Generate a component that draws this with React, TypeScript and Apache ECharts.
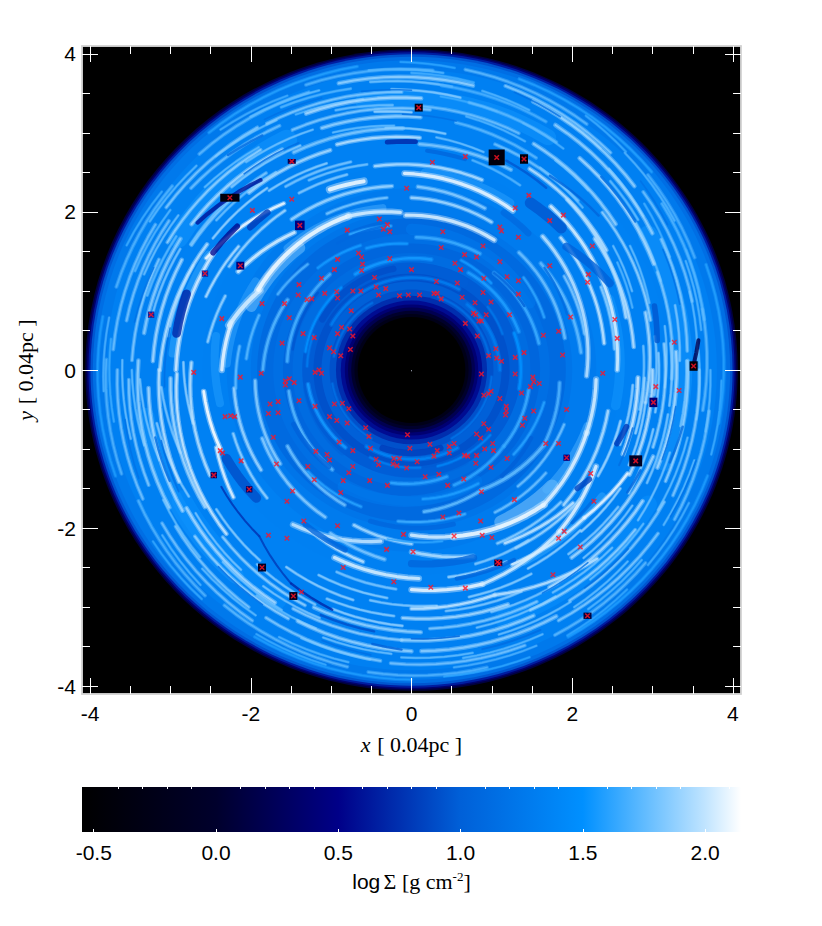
import React, { useEffect, useRef } from "react";
import * as echarts from "echarts";

const xTicks = [-4, -2, 0, 2, 4];
const yTicks = [-4, -2, 0, 2, 4];
const minorTicks = [-3.5, -3, -2.5, -1.5, -1, -0.5, 0.5, 1, 1.5, 2.5, 3, 3.5];
const barTicks = [-0.5, 0, 0.5, 1, 1.5, 2];
const barMinor = [-0.4, -0.3, -0.2, -0.1, 0.1, 0.2, 0.3, 0.4, 0.6, 0.7, 0.8, 0.9, 1.1, 1.2, 1.3, 1.4, 1.6, 1.7, 1.8, 1.9, 2.1];
const barRange = [-0.548, 2.147];
const palette: [number, number[]][] = [
  [-0.55, [0, 0, 0]], [0, [0, 0, 44]], [0.5, [0, 0, 136]], [1, [0, 96, 216]],
  [1.5, [0, 144, 255]], [1.75, [96, 187, 255]], [2, [192, 228, 255]], [2.15, [255, 255, 255]],
];

// radial profile: [outer radius, log sigma]
const rings = [
  [4.06, 0.1], [4.04, 0.35], [4.02, 0.65], [3.995, 0.95], [3.965, 1.15], [3.92, 1.26], [3.8, 1.33],
  [3.2, 1.34], [2.6, 1.33], [2.3, 1.28], [2.0, 1.22], [1.92, 1.1], [1.72, 1.16], [1.6, 1.06], [1.48, 1.12], [1.36, 0.98],
  [1.22, 0.92], [1.12, 1.0], [1.02, 0.92], [0.94, 0.74], [0.88, 0.56], [0.83, 0.38], [0.79, 0.2], [0.75, 0],
  [0.71, -0.25], [0.67, -0.55],
];

// [r start, r end, angle start, angle end, log sigma, thickness]
const broadBands = [
  [2.3, 2.24, 178, 150, 1.65, 0.1], [2.15, 2.08, 158, 132, 1.85, 0.14], [2.18, 2.08, 135, 100, 1.7, 0.1],
  [2.28, 2.22, -40, -60, 1.9, 0.16], [2.3, 2.26, -18, -42, 1.72, 0.1], [2.5, 2.44, 86, 60, 1.62, 0.12],
  [2.86, 2.8, -34, -60, 1.65, 0.1], [2.98, 2.92, 176, 150, 1.65, 0.1], [2.47, 2.42, 170, 190, 1.6, 0.1],
  [2.62, 2.58, 20, -10, 1.55, 0.12], [3.35, 3.3, 150, 118, 1.55, 0.25], [3.35, 3.3, -120, -150, 1.52, 0.25],
  [3.4, 3.35, 30, -20, 1.55, 0.25], [3.45, 3.4, 100, 60, 1.55, 0.2], [3.4, 3.35, 230, 190, 1.55, 0.2],
  [3.4, 3.35, -30, -70, 1.52, 0.22], [1.78, 1.7, 90, 30, 1.3, 0.14], [1.7, 1.62, 240, 300, 1.3, 0.14],
  [1.3, 1.28, 120, 60, 1.0, 0.14], [1.32, 1.3, 300, 250, 1.02, 0.12], [1.34, 1.32, 230, 190, 1.0, 0.1],
];

const outerFilaments = [
  [3.86, 3.8, 80, 55, 1.75, 0.022], [3.78, 3.7, 72, 48, 1.85, 0.022], [3.72, 3.62, 66, 40, 1.9, 0.026],
  [3.66, 3.6, 38, 14, 1.8, 0.022], [3.62, 3.56, 84, 62, 1.7, 0.022], [3.58, 3.46, 60, 30, 1.9, 0.026],
  [3.52, 3.44, 28, 4, 1.85, 0.022], [3.46, 3.4, 78, 58, 1.75, 0.022], [3.4, 3.3, 52, 24, 1.95, 0.026],
  [3.34, 3.28, 88, 66, 1.8, 0.022], [3.3, 3.24, 22, -2, 1.85, 0.022], [3.24, 3.14, 62, 36, 1.9, 0.026],
  [3.18, 3.1, 80, 60, 1.75, 0.022], [3.1, 3.04, 40, 12, 1.9, 0.022], [3.04, 2.98, 70, 46, 1.8, 0.022],
  [3.0, 2.94, 14, -8, 1.95, 0.026], [2.94, 2.86, 60, 32, 2.0, 0.026], [2.86, 2.82, 88, 64, 1.85, 0.026],
  [2.82, 2.78, 36, 6, 2.0, 0.026], [3.76, 3.7, 34, 10, 1.72, 0.022], [3.84, 3.8, 40, 22, 1.7, 0.022],
  [3.7, 3.66, 12, -8, 1.75, 0.022], [3.84, 3.8, 110, 86, 1.72, 0.022], [3.74, 3.68, 104, 78, 1.9, 0.026],
  [3.6, 3.52, 120, 92, 1.85, 0.022], [3.5, 3.44, 112, 88, 1.95, 0.026], [3.38, 3.3, 116, 86, 1.85, 0.022],
  [3.26, 3.2, 110, 88, 1.9, 0.026], [3.12, 3.06, 118, 92, 1.85, 0.026], [3.0, 2.94, 108, 88, 2.0, 0.026],
  [3.8, 3.74, 134, 110, 1.75, 0.022], [3.68, 3.62, 146, 122, 1.85, 0.022], [3.58, 3.5, 140, 118, 1.8, 0.022],
  [3.44, 3.36, 152, 124, 1.9, 0.022], [3.3, 3.22, 146, 120, 1.95, 0.026], [3.16, 3.08, 150, 126, 1.85, 0.022],
  [3.02, 2.96, 132, 110, 1.95, 0.026], [3.82, 3.78, 164, 142, 1.72, 0.022], [3.72, 3.68, 176, 150, 1.8, 0.022],
  [3.6, 3.56, 170, 148, 1.82, 0.022], [3.48, 3.44, 178, 156, 1.85, 0.022], [3.36, 3.32, 172, 150, 1.88, 0.026],
  [3.22, 3.18, 178, 154, 1.95, 0.026], [3.13, 3.0, 180, 148, 2.0, 0.026], [2.93, 2.87, 180, 149, 2.08, 0.03],
  [3.8, 3.84, 178, 200, 1.72, 0.022], [3.66, 3.72, 180, 206, 1.82, 0.022], [3.52, 3.58, 182, 204, 1.85, 0.022],
  [3.4, 3.48, 178, 210, 1.9, 0.026], [3.28, 3.36, 184, 212, 1.95, 0.026], [3.14, 3.22, 180, 206, 2.0, 0.026],
  [3.0, 3.1, 182, 214, 1.95, 0.026], [2.92, 3.1, 181, 222, 2.05, 0.026], [2.74, 2.84, 178, 208, 2.0, 0.026],
  [3.78, 3.84, 206, 228, 1.72, 0.022], [3.66, 3.74, 212, 238, 1.82, 0.022], [3.54, 3.62, 214, 236, 1.85, 0.022],
  [3.42, 3.5, 218, 244, 1.9, 0.022], [3.3, 3.4, 212, 240, 1.95, 0.026], [3.16, 3.26, 222, 246, 1.9, 0.022],
  [3.78, 3.84, 232, 258, 1.75, 0.022], [3.62, 3.7, 240, 264, 1.85, 0.022], [3.48, 3.56, 246, 270, 1.9, 0.026],
  [3.36, 3.42, 244, 268, 1.88, 0.022], [3.24, 3.32, 248, 272, 1.9, 0.026], [3.86, 3.88, 262, 284, 1.72, 0.022],
  [3.72, 3.76, 266, 292, 1.82, 0.022], [3.56, 3.6, 272, 300, 1.88, 0.026], [3.42, 3.46, 268, 296, 1.9, 0.026],
  [3.28, 3.32, 274, 298, 1.85, 0.022], [3.14, 3.2, 268, 292, 1.95, 0.026], [3.8, 3.8, -62, -40, 1.75, 0.022],
  [3.66, 3.7, -60, -34, 1.85, 0.022], [3.52, 3.56, -56, -28, 1.85, 0.022], [3.38, 3.44, -64, -36, 1.9, 0.022],
  [3.24, 3.32, -58, -30, 1.95, 0.026], [3.1, 3.2, -50, -20, 1.95, 0.026], [3.78, 3.74, -30, -8, 1.78, 0.022],
  [3.62, 3.58, -26, 0, 1.85, 0.022], [3.46, 3.44, -24, 2, 1.9, 0.022], [3.3, 3.3, -22, 4, 1.95, 0.026],
  [3.16, 3.16, -18, 6, 1.9, 0.022], [3.02, 3.0, -26, 0, 2.0, 0.026], [2.84, 2.82, -22, -2, 2.05, 0.03],
  [3.92, 3.9, 70, 40, 1.6, 0.02], [3.92, 3.9, 130, 100, 1.6, 0.02], [3.92, 3.9, 200, 170, 1.58, 0.02],
  [3.92, 3.9, 270, 240, 1.58, 0.02], [3.92, 3.9, -20, -60, 1.58, 0.02], [3.9, 3.88, 20, -10, 1.6, 0.02],
];

// finer streaks, first quadrant round to the fourth
const fineStreaks = [
  [3.9, 3.86, 92, 82, 1.62, 0.018], [3.83, 3.78, 98, 84, 1.72, 0.018], [3.76, 3.72, 90, 78, 1.68, 0.02], [3.7, 3.66, 60, 50, 1.78, 0.018],
  [3.68, 3.62, 98, 82, 1.8, 0.02], [3.64, 3.6, 76, 66, 1.72, 0.018], [3.54, 3.48, 46, 34, 1.76, 0.018], [3.56, 3.5, 94, 80, 1.85, 0.02],
  [3.48, 3.44, 84, 72, 1.66, 0.018], [3.42, 3.38, 66, 56, 1.7, 0.018], [3.36, 3.3, 34, 20, 1.74, 0.02], [3.3, 3.26, 98, 90, 1.9, 0.02],
  [3.28, 3.22, 78, 64, 1.72, 0.018], [3.2, 3.16, 56, 46, 1.68, 0.018], [3.14, 3.08, 30, 16, 1.76, 0.018], [3.08, 3.02, 96, 82, 1.86, 0.02],
  [3.02, 2.96, 58, 44, 1.74, 0.018], [2.96, 2.9, 84, 72, 1.78, 0.018], [2.9, 2.86, 28, 16, 1.72, 0.018], [2.76, 2.7, 74, 60, 1.72, 0.02],
  [3.88, 3.84, 56, 46, 1.66, 0.018], [3.82, 3.78, 46, 30, 1.72, 0.018], [3.74, 3.7, 24, 12, 1.64, 0.018], [3.68, 3.64, 22, 8, 1.72, 0.018],
  [3.6, 3.56, 16, 2, 1.74, 0.018], [3.58, 3.52, 36, 24, 1.68, 0.018], [3.44, 3.4, 44, 34, 1.76, 0.02], [3.38, 3.34, 14, 2, 1.82, 0.02],
  [3.2, 3.16, 10, -4, 1.78, 0.018], [3.06, 3.04, 8, -6, 1.82, 0.02], [2.96, 2.92, 32, 20, 1.78, 0.018], [2.9, 2.88, 6, -10, 1.8, 0.02],
  [3.86, 3.8, 128, 114, 1.68, 0.018], [3.78, 3.72, 122, 108, 1.76, 0.018], [3.7, 3.64, 116, 102, 1.72, 0.02], [3.64, 3.58, 132, 118, 1.76, 0.018],
  [3.54, 3.48, 114, 100, 1.72, 0.018], [3.46, 3.4, 138, 124, 1.76, 0.018], [3.42, 3.36, 106, 94, 1.78, 0.02], [3.34, 3.28, 128, 112, 1.8, 0.018],
  [3.22, 3.16, 134, 116, 1.85, 0.02], [3.16, 3.1, 108, 94, 1.76, 0.018], [3.08, 3.02, 142, 124, 1.78, 0.02], [2.98, 2.92, 146, 128, 1.9, 0.02],
  [2.88, 2.82, 128, 112, 1.86, 0.02], [2.8, 2.74, 124, 106, 1.82, 0.022], [2.72, 2.66, 118, 102, 1.8, 0.02], [2.64, 2.6, 122, 108, 1.84, 0.022],
  [3.88, 3.84, 156, 144, 1.66, 0.018], [3.76, 3.72, 150, 136, 1.74, 0.018], [3.66, 3.62, 160, 146, 1.72, 0.018], [3.54, 3.5, 160, 146, 1.78, 0.018],
  [3.42, 3.38, 164, 150, 1.74, 0.02], [3.3, 3.26, 168, 152, 1.82, 0.02], [3.18, 3.14, 150, 136, 1.76, 0.018], [3.06, 3.02, 172, 154, 1.84, 0.02],
  [3.84, 3.82, 184, 170, 1.7, 0.018], [3.76, 3.76, 190, 174, 1.66, 0.018], [3.6, 3.6, 194, 178, 1.78, 0.018], [3.46, 3.48, 196, 180, 1.76, 0.018],
  [3.34, 3.38, 200, 182, 1.8, 0.018], [3.2, 3.24, 210, 192, 1.84, 0.02], [3.06, 3.12, 200, 184, 1.82, 0.02], [2.8, 2.84, 194, 178, 1.88, 0.02],
  [3.88, 3.9, 214, 228, 1.64, 0.018], [3.74, 3.78, 214, 226, 1.72, 0.018], [3.62, 3.66, 224, 238, 1.76, 0.018], [3.5, 3.54, 208, 222, 1.76, 0.018],
  [3.38, 3.44, 226, 242, 1.78, 0.018], [3.24, 3.3, 214, 230, 1.82, 0.018], [3.12, 3.2, 232, 248, 1.84, 0.02], [3.0, 3.06, 216, 232, 1.86, 0.02],
  [3.86, 3.88, 240, 254, 1.66, 0.018], [3.76, 3.78, 244, 258, 1.72, 0.018], [3.66, 3.7, 248, 262, 1.74, 0.018], [3.56, 3.6, 252, 266, 1.78, 0.018],
  [3.44, 3.48, 236, 250, 1.76, 0.018], [3.3, 3.34, 236, 250, 1.82, 0.018], [3.18, 3.24, 252, 268, 1.88, 0.02], [3.08, 3.12, 250, 266, 1.86, 0.02],
  [2.94, 3.0, 238, 256, 1.88, 0.02], [2.84, 2.9, 246, 264, 1.86, 0.02], [2.72, 2.78, 250, 266, 1.82, 0.022], [2.96, 3.0, 260, 276, 1.84, 0.02],
  [3.9, 3.92, 276, 292, 1.62, 0.018], [3.8, 3.82, 278, 294, 1.7, 0.018], [3.7, 3.72, 280, 296, 1.74, 0.018], [3.64, 3.66, 268, 282, 1.76, 0.018],
  [3.52, 3.54, 288, 304, 1.78, 0.018], [3.36, 3.38, 284, 302, 1.8, 0.018], [3.22, 3.26, 288, 304, 1.82, 0.02], [3.08, 3.12, 278, 296, 1.84, 0.02],
  [2.96, 2.98, 284, 300, 1.86, 0.02], [2.66, 2.7, 280, 296, 1.9, 0.022], [2.58, 2.6, 288, 304, 1.84, 0.022], [2.9, 2.92, 300, 316, 1.88, 0.02],
  [3.88, 3.86, 300, 314, 1.64, 0.018], [3.74, 3.74, 306, 320, 1.72, 0.018], [3.62, 3.62, 304, 318, 1.76, 0.018], [3.46, 3.48, 310, 326, 1.76, 0.018],
  [3.32, 3.36, 302, 318, 1.8, 0.018], [3.2, 3.24, 312, 328, 1.82, 0.018], [3.04, 3.1, 310, 326, 1.84, 0.02], [2.94, 3.0, 316, 330, 1.9, 0.02],
  [3.84, 3.84, 320, 334, 1.68, 0.018], [3.7, 3.7, 328, 342, 1.74, 0.018], [3.54, 3.54, 330, 346, 1.76, 0.018], [3.4, 3.38, 326, 342, 1.8, 0.018],
  [3.26, 3.24, 334, 350, 1.82, 0.02], [3.12, 3.1, 330, 346, 1.86, 0.02], [2.96, 2.94, 336, 352, 1.88, 0.02], [3.88, 3.86, 344, 358, 1.66, 0.018],
  [3.74, 3.72, 348, 360, 1.72, 0.018], [3.6, 3.58, 350, 364, 1.76, 0.018], [3.42, 3.42, 348, 362, 1.8, 0.018], [3.24, 3.24, 352, 366, 1.84, 0.02],
  [3.08, 3.08, 350, 364, 1.86, 0.02], [2.9, 2.9, 344, 358, 1.9, 0.022], [2.76, 2.76, 340, 356, 1.88, 0.022], [2.68, 2.68, 330, 346, 1.92, 0.022],
];

const innerFilaments = [
  [2.49, 2.38, 92, 58, 2.1, 0.04], [2.62, 2.56, 100, 70, 1.95, 0.03], [1.96, 1.94, 92, 58, 2.06, 0.04],
  [2.18, 2.12, 90, 62, 1.92, 0.03], [2.32, 2.24, 88, 66, 1.85, 0.03], [2.7, 2.56, 50, 0, 2.05, 0.035],
  [2.35, 2.18, 46, -2, 1.98, 0.035], [2.0, 1.95, 48, 12, 1.78, 0.03], [2.5, 2.42, 42, 8, 2.0, 0.03],
  [2.36, 2.32, 180, 165, 2.1, 0.04], [2.34, 2.14, 166, 152, 2.05, 0.05], [2.16, 2.1, 152, 112, 2.12, 0.05],
  [2.1, 2.0, 112, 94, 2.05, 0.04], [2.92, 2.64, 151, 127, 2.12, 0.03], [2.49, 2.27, 150, 130, 2.05, 0.035],
  [2.5, 2.46, 114, 104, 2.12, 0.05], [2.42, 2.34, 128, 96, 1.9, 0.03], [2.6, 2.58, 186, 203, 2.15, 0.035],
  [2.62, 2.74, 202, 216, 2.08, 0.03], [2.45, 2.2, 233, 260, 2.0, 0.04], [2.39, 2.5, 238, 256, 1.98, 0.03],
  [2.56, 2.64, 248, 272, 2.05, 0.04], [2.09, 2.2, 250, 270, 1.92, 0.03], [2.09, 2.17, -90, -76, 2.05, 0.04],
  [2.17, 2.37, -76, -46, 2.12, 0.05], [2.78, 2.85, -90, -72, 2.1, 0.04], [2.85, 2.75, -72, -48, 2.05, 0.035],
  [2.75, 2.6, -48, -28, 2.08, 0.04], [2.76, 2.85, -63, -41, 2.05, 0.03], [2.85, 2.99, -41, -26, 2.1, 0.03],
  [3.02, 3.03, -90, -70, 2.0, 0.03], [3.03, 3.32, -70, -46, 1.98, 0.03], [2.37, 2.32, -46, -20, 2.08, 0.04],
  [2.32, 2.3, -20, -3, 2.05, 0.04], [2.55, 2.5, -42, -12, 1.95, 0.03], [2.48, 2.62, -62, -40, 2.0, 0.03],
  [1.8, 1.75, -85, -60, 1.75, 0.03], [1.75, 1.9, -60, -30, 1.75, 0.035], [1.9, 1.85, -30, -5, 1.7, 0.03],
  [1.55, 1.5, -70, -40, 1.62, 0.03], [1.5, 1.48, -40, -10, 1.65, 0.03], [1.45, 1.42, -100, -72, 1.62, 0.03],
  [1.42, 1.42, 20, 60, 1.58, 0.03], [1.62, 1.6, 12, 50, 1.65, 0.03], [1.7, 1.68, 60, 88, 1.65, 0.03],
  [1.42, 1.4, 80, 120, 1.55, 0.03], [1.58, 1.55, 130, 176, 1.68, 0.03], [1.85, 1.78, 180, 150, 1.72, 0.03],
  [1.36, 1.34, 130, 170, 1.5, 0.025], [1.18, 1.15, 60, 150, 1.3, 0.03], [1.14, 1.12, -60, -120, 1.38, 0.03],
  [1.3, 1.28, 188, 230, 1.55, 0.03], [1.55, 1.6, 190, 232, 1.72, 0.03], [1.95, 2.02, 184, 216, 1.85, 0.03],
  [1.82, 1.9, 212, 244, 1.78, 0.03], [2.22, 2.26, 186, 214, 1.9, 0.03], [1.1, 1.08, 0, 50, 1.28, 0.03],
  [2.12, 2.1, 6, 40, 1.75, 0.03], [1.36, 1.36, -10, 20, 1.5, 0.03], [2.9, 2.75, 48, 14, 1.95, 0.03],
  [2.05, 2.15, 205, 240, 1.85, 0.03], [2.3, 2.42, 244, 262, 1.82, 0.03], [2.3, 2.48, 270, 288, 1.95, 0.035],
  [2.24, 2.2, 118, 98, 1.8, 0.025], [2.62, 2.56, 150, 128, 1.9, 0.025], [2.72, 2.66, 160, 144, 1.95, 0.025], [2.56, 2.5, 172, 158, 1.88, 0.025],
  [2.2, 2.16, 186, 172, 1.75, 0.025], [2.06, 2.02, 176, 160, 1.72, 0.025], [1.92, 1.86, 150, 134, 1.7, 0.025], [1.74, 1.7, 132, 112, 1.55, 0.025],
  [1.64, 1.6, 110, 92, 1.55, 0.025], [1.88, 1.84, 114, 98, 1.62, 0.025], [1.52, 1.48, 66, 48, 1.55, 0.025], [1.82, 1.78, 40, 22, 1.62, 0.025],
  [2.24, 2.2, 32, 12, 1.82, 0.025], [2.58, 2.54, 24, 6, 1.86, 0.025], [1.24, 1.22, 40, 22, 1.22, 0.022], [1.3, 1.3, 160, 178, 1.28, 0.022],
  [0.98, 0.98, 120, 170, 1.15, 0.022], [0.98, 0.98, 10, 70, 1.14, 0.022], [1.0, 1.0, 190, 240, 1.16, 0.022], [1.0, 1.0, -60, -5, 1.18, 0.022],
  [1.22, 1.24, 245, 275, 1.3, 0.022], [1.26, 1.28, 285, 320, 1.38, 0.022], [1.66, 1.7, 320, 346, 1.6, 0.025], [1.98, 2.02, 312, 340, 1.78, 0.025],
  [2.08, 2.12, 300, 322, 1.78, 0.025], [2.44, 2.5, 296, 318, 1.86, 0.025], [2.6, 2.66, 300, 322, 1.9, 0.025], [2.16, 2.2, 262, 280, 1.62, 0.02],
  [1.92, 1.94, 265, 290, 1.66, 0.025], [1.64, 1.66, 275, 300, 1.58, 0.025], [1.82, 1.84, 225, 250, 1.6, 0.025], [2.36, 2.42, 200, 222, 1.88, 0.025],
];

const darkFilaments = [
  [3.25, 3.05, 145, 128, 0.6, 0.05], [2.88, 2.83, 149, 140, 0.55, 0.07], [2.7, 2.68, 138, 132, 0.8, 0.08],
  [2.96, 2.96, 171, 161, 0.7, 0.11], [2.9, 2.89, 96, 89, 0.7, 0.06], [2.78, 2.75, 86, 76, 1.05, 0.05],
  [2.58, 2.59, 55, 44, 0.95, 0.14], [2.48, 2.7, 39, 24, 1.0, 0.1], [3.13, 3.08, 15, 7, 0.95, 0.07],
  [3.51, 3.59, 1, 6, 0.2, 0.05], [2.72, 2.77, -20, -15, 0.8, 0.07], [2.55, 2.61, -36, -32, 0.85, 0.07],
  [2.45, 2.5, -90, -72, 1.05, 0.09], [2.7, 2.72, -78, -62, 1.05, 0.05], [2.56, 2.52, 206, 220, 0.9, 0.12],
  [2.79, 2.83, 212, 228, 0.75, 0.025], [2.83, 3.09, 228, 241, 0.8, 0.025], [3.09, 3.19, 241, 252, 0.7, 0.03],
  [3.3, 3.34, 250, 262, 0.9, 0.03], [3.5, 3.54, 262, 268, 1.0, 0.03], [3.0, 3.04, 55, 40, 1.05, 0.03],
  [2.9, 2.85, 66, 54, 0.95, 0.03], [3.4, 3.36, 46, 34, 1.15, 0.03], [3.45, 3.42, -12, -20, 1.1, 0.03],
  [3.12, 3.1, -24, -30, 1.05, 0.03], [3.55, 3.5, 130, 122, 1.1, 0.03], [3.3, 3.32, 195, 205, 1.15, 0.03],
  [2.36, 2.42, 236, 250, 1.05, 0.07], [2.78, 2.8, -44, -36, 1.1, 0.04], [1.3, 1.28, 100, 150, 0.9, 0.08],
  [1.05, 1.05, -70, -110, 0.82, 0.08], [1.62, 1.6, 205, 230, 1.02, 0.06], [1.75, 1.72, -50, -30, 1.0, 0.05],
  [2.02, 1.98, -75, -105, 1.06, 0.06], [2.3, 2.26, 60, 50, 1.1, 0.08],
  [3.74, 3.7, 70, 60, 1.15, 0.02], [3.58, 3.54, 100, 90, 1.15, 0.02], [3.24, 3.2, 92, 80, 1.15, 0.02], [3.48, 3.44, 26, 14, 1.18, 0.02],
  [3.66, 3.62, 120, 108, 1.18, 0.02], [3.24, 3.2, 130, 116, 1.12, 0.02], [3.5, 3.46, 170, 158, 1.18, 0.02], [3.08, 3.05, 184, 170, 1.15, 0.02],
  [3.62, 3.66, 190, 202, 1.18, 0.02], [3.24, 3.28, 196, 208, 1.15, 0.02], [3.46, 3.5, 226, 238, 1.15, 0.02], [3.6, 3.64, 252, 262, 1.15, 0.02],
  [3.4, 3.42, 270, 280, 1.05, 0.02], [3.64, 3.66, 284, 296, 1.12, 0.025], [3.5, 3.52, 308, 320, 1.15, 0.02], [3.26, 3.28, 300, 312, 1.18, 0.02],
  [3.72, 3.72, 330, 342, 1.18, 0.02], [3.32, 3.32, 340, 352, 1.15, 0.02], [2.85, 2.85, 335, 345, 1.15, 0.025], [3.72, 3.68, 40, 30, 1.18, 0.02],
  [1.52, 1.5, 140, 170, 0.95, 0.03], [1.62, 1.6, 30, 50, 1.0, 0.03], [1.85, 1.85, 100, 120, 1.08, 0.03], [2.06, 2.1, 20, 38, 1.12, 0.03],
];

// dense objects: [x, y, half width, half height, log sigma]
const clumps = [
  [-2.26, 2.18, 0.12, 0.05, -0.4], [-1.39, 1.83, 0.06, 0.06, 0.45], [-2.13, 1.32, 0.05, 0.05, 0.4], [-1.49, 2.64, 0.05, 0.03, 0.2],
  [-2.57, 1.22, 0.04, 0.04, 0.7], [-3.24, 0.7, 0.04, 0.04, 0.7], [0.09, 3.32, 0.05, 0.05, -0.3], [1.06, 2.69, 0.1, 0.1, -0.4],
  [1.4, 2.67, 0.05, 0.06, -0.4], [3.51, 0.05, 0.05, 0.06, -0.4], [3.01, -0.41, 0.05, 0.06, 0.4], [2.79, -1.15, 0.08, 0.07, -0.1],
  [1.93, -1.11, 0.04, 0.04, 0.45], [2.19, -3.11, 0.05, 0.04, 0.1], [1.08, -2.44, 0.05, 0.04, 0.1], [-1.86, -2.5, 0.05, 0.05, -0.1],
  [-1.47, -2.86, 0.05, 0.05, -0.1], [-2.02, -1.51, 0.04, 0.04, 0.3], [-2.46, -1.33, 0.04, 0.04, 0.3],
];
const coreDot = [[0, -0.01]];

const stars = [
  [-2.26, 2.18], [-1.49, 2.64], [-1.49, 2.16], [-1.98, 2.02], [-1.39, 1.83], [-2.13, 1.32], [-2.57, 1.22], [-3.24, 0.7], [-2.36, 0.65], [-1.86, 0.84],
  [-2.71, -0.03], [-1.87, -0.04], [-0.06, 2.3], [-0.4, 1.91], [-0.3, 1.84], [-0.35, 1.78], [-0.27, 1.75], [-0.8, 1.77], [-0.66, 1.48], [-0.62, 1.43],
  [-0.92, 1.4], [-0.27, 1.41], [-0.61, 1.34], [-0.96, 1.27], [-0.62, 1.26], [0, 1.27], [-1.12, 1.16], [-0.46, 1.17], [-1.4, 1.08], [-0.93, 0.99],
  [-1.08, 0.97], [-0.73, 1], [-0.63, 1], [-0.44, 1.05], [-0.32, 1.03], [-0.41, 0.95], [-0.15, 0.94], [-0.04, 0.95], [-1.41, 0.95], [-1.3, 0.89],
  [-1.24, 0.9], [-0.92, 0.91], [-1.58, 0.84], [-0.75, 0.75], [-1.52, 0.66], [-0.87, 0.54], [-0.77, 0.52], [-0.92, 0.46], [-1.35, 0.46], [-1.21, 0.41],
  [-0.73, 0.43], [-1.61, 0.34], [-1.02, 0.28], [-0.97, 0.23], [-0.76, 0.26], [-0.88, 0.18], [-1.15, 0], [-1.2, -0.03], [-1.12, -0.04],
  [0.09, 3.32], [1.06, 2.69], [1.4, 2.67], [0.67, 2.7], [0.26, 2.63], [1.46, 2.21], [1.29, 2.05], [1.89, 1.96], [1.72, 1.89], [1.1, 1.81],
  [1.12, 1.76], [1.33, 1.68], [0.39, 1.75], [0.37, 1.55], [0.89, 1.57], [0.66, 1.46], [0.81, 1.43], [2.25, 1.57], [1.1, 1.37], [0.54, 1.35],
  [0.61, 1.27], [1.72, 1.32], [2.2, 1.21], [2.19, 1.11], [1.19, 1.18], [0.9, 1.16], [1.33, 1.13], [0.31, 1.12], [0.57, 1.1], [0.89, 0.98],
  [1.33, 0.96], [0.28, 0.97], [0.32, 0.97], [0.1, 0.95], [0.37, 0.9], [0.63, 0.92], [0.99, 0.86], [0.79, 0.85], [0.77, 0.72], [0.8, 0.7],
  [0.93, 0.7], [1.22, 0.7], [1.98, 0.67], [2.53, 0.64], [0.84, 0.62], [0.87, 0.62], [0.67, 0.59], [1.83, 0.49], [1.64, 0.44], [0.82, 0.43],
  [2.56, 0.4], [3.27, 0.35], [1.05, 0.27], [1.4, 0.22], [0.96, 0.18], [1.88, 0.19], [1.06, 0.15], [1.12, 0.11], [1.29, 0.16], [3.51, 0.05],
  [0.87, -0.05], [1.29, -0.05], [2.38, -0.04],
  [-2.13, -0.09], [-1.57, -0.14], [-1.52, -0.11], [-1.46, -0.16], [-1.57, -0.19], [-1.76, -0.43], [-1.66, -0.4], [-1.4, -0.39], [-1.2, -0.46], [-0.96, -0.43],
  [-0.86, -0.42], [-0.78, -0.49], [-1.78, -0.55], [-1.66, -0.54], [-2.32, -0.59], [-2.25, -0.58], [-2.2, -0.59], [-1.02, -0.59], [-0.93, -0.64], [-0.8, -0.67],
  [-0.57, -0.73], [-1.72, -0.85], [-0.53, -0.84], [-0.05, -0.82], [-0.9, -0.91], [-0.51, -0.99], [-0.02, -0.99], [-1.19, -1.03], [-0.73, -1.02], [-1.05, -1.07],
  [-2.38, -1.02], [-2.35, -1.05], [-1.02, -1.14], [-0.44, -1.13], [-0.22, -1.12], [-0.15, -1.12], [-2.12, -1.15], [-1.68, -1.19], [-1.29, -1.22], [-0.41, -1.2],
  [-0.23, -1.19], [-0.18, -1.21], [-0.06, -1.24], [-0.73, -1.22], [-0.78, -1.3], [-2.46, -1.33], [-1.21, -1.39], [-0.85, -1.4], [-0.52, -1.4], [-0.3, -1.46],
  [-2.02, -1.51], [-1.48, -1.53], [-0.88, -1.55], [-1.55, -1.66], [-1.34, -1.91], [-0.92, -1.97], [-1.78, -2.09], [-1.55, -2.13], [-0.1, -2.08], [-0.31, -2.27],
  [0.02, -2.3], [-1.86, -2.5], [-0.85, -2.5], [-0.22, -2.68], [-1.47, -2.86], [-1.37, -2.81],
  [1.51, -0.09], [1.52, -0.15], [1.59, -0.17], [1.48, -0.21], [1.37, -0.29], [0.99, -0.27], [0.96, -0.3], [0.9, -0.32], [1.1, -0.36], [3.04, -0.21],
  [3.33, -0.26], [3.01, -0.41], [1.18, -0.46], [1.18, -0.52], [1.17, -0.57], [1.52, -0.52], [1.93, -0.5], [1.41, -0.61], [1.38, -0.7], [0.9, -0.68],
  [0.96, -0.75], [0.81, -0.81], [0.86, -0.86], [1.67, -0.93], [1.83, -0.93], [1.01, -0.93], [0.23, -0.94], [0.53, -0.93], [0.47, -0.97], [0.32, -1.02],
  [0.91, -1], [1.02, -1.02], [0.47, -1.05], [0.28, -1.09], [0.66, -1.08], [0.7, -1.09], [0.81, -1.08], [1.93, -1.11], [1.19, -1.12], [2.79, -1.15],
  [0.07, -1.16], [0.8, -1.18], [0.99, -1.23], [2.23, -1.31], [0.17, -1.35], [0.34, -1.32], [0.65, -1.38], [0.45, -1.46], [0.87, -1.54], [1.28, -1.64],
  [2.27, -1.66], [0.59, -1.81], [0.39, -1.86], [0.86, -1.91], [1.9, -2.04], [1.83, -2.13], [0.53, -2.1], [0.88, -2.09], [1, -2.12], [2.1, -2.24],
  [1.07, -2.43], [1.09, -2.45], [1.76, -2.59], [0.24, -2.75], [0.67, -2.76], [2.19, -3.11],
];

const colorOf = (v: number) => {
  for (let i = 1; i < palette.length; i++) {
    if (v <= palette[i][0]) {
      const [a, ca] = palette[i - 1];
      const [b, cb] = palette[i];
      const t = Math.max(0, (v - a) / (b - a));
      return `rgb(${ca.map((c, k) => Math.round(c + (cb[k] - c) * t)).join(",")})`;
    }
  }
  return "#fff";
};

const base = { type: "custom", coordinateSystem: "cartesian2d", silent: true, clip: true, xAxisIndex: 0, yAxisIndex: 0 };

const arcSeries = (rows: number[][], opacity: number, widen = 1) => ({
  ...base,
  data: rows,
  renderItem: (_: any, api: any) => {
    const [r0, r1, a0, a1, v, t] = [0, 1, 2, 3, 4, 5].map((i) => api.value(i));
    const n = Math.max(2, Math.ceil(Math.abs(a1 - a0) / 3));
    const points: number[][] = [];
    for (let i = 0; i <= n; i++) {
      const f = i / n;
      const r = r0 + (r1 - r0) * f;
      const a = ((a0 + (a1 - a0) * f) * Math.PI) / 180;
      points.push(api.coord([r * Math.cos(a), r * Math.sin(a)]));
    }
    return {
      type: "polyline",
      shape: { points, smooth: 0 },
      style: { fill: "none", stroke: colorOf(v), lineWidth: api.size([t * widen, 0])[0], opacity, lineCap: "round", lineJoin: "round" },
    };
  },
});

const sideAxis = (extra: any) => ({
  min: -4.1,
  max: 4.1,
  type: "value",
  z: 10,
  splitLine: { show: false },
  axisLine: { onZero: false, lineStyle: { color: "#d4d4d4", width: 1.5 } },
  ...extra,
});
const labelStyle = { fontFamily: "Liberation Sans", fontSize: 21, color: "#000" };
const tickStyle = { lineStyle: { color: "#fff", width: 1 } };
const nameRich = {
  i: { fontFamily: "Liberation Serif", fontStyle: "italic", fontSize: 22, color: "#000" },
  s: { fontFamily: "Liberation Serif", fontSize: 22, color: "#000" },
  h: { fontFamily: "Liberation Sans", fontSize: 21, color: "#000" },
  u: { fontFamily: "Liberation Serif", fontSize: 13, color: "#000", verticalAlign: "top", padding: [0, 0, 9, 0] },
};

const horizontal = (position: string, values: number[], len: number, labels: boolean, margin: number, extra: any = {}) =>
  sideAxis({
    position,
    axisTick: { show: true, inside: true, length: len, customValues: values, ...tickStyle },
    axisLabel: labels ? { show: true, customValues: values, margin, ...labelStyle, formatter: (v: number) => String(v) } : { show: false },
    ...extra,
  });

const option: any = {
  animation: false,
  backgroundColor: "#fff",
  grid: [
    { left: 82, top: 46, width: 659, height: 648, backgroundColor: "#000", show: true, borderWidth: 0 },
    { left: 82, top: 787, width: 659, height: 45, show: false },
  ],
  xAxis: [
    horizontal("bottom", xTicks, 16, true, 9, {
      name: "{i|x}  {s|[ 0.04pc ]}",
      nameLocation: "middle",
      nameGap: 39,
      nameTextStyle: { rich: nameRich },
    }),
    horizontal("top", xTicks, 16, false, 0),
    horizontal("bottom", minorTicks, 8, false, 0),
    horizontal("top", minorTicks, 8, false, 0),
    {
      gridIndex: 1,
      type: "value",
      min: barRange[0],
      max: barRange[1],
      position: "bottom",
      z: 10,
      splitLine: { show: false },
      axisLine: { show: false },
      axisTick: { show: true, inside: true, length: 3, customValues: barTicks, lineStyle: { color: "#fff", width: 1 } },
      axisLabel: { show: true, customValues: barTicks, margin: 10, ...labelStyle, formatter: (v: number) => v.toFixed(1) },
      name: "{h|log} {s|Σ [g cm}{u|-2}{s|]}",
      nameLocation: "middle",
      nameGap: 38,
      nameTextStyle: { rich: nameRich },
    },
    {
      gridIndex: 1,
      type: "value",
      min: barRange[0],
      max: barRange[1],
      position: "top",
      z: 10,
      splitLine: { show: false },
      axisLine: { show: false },
      axisTick: { show: true, inside: true, length: 2, customValues: barMinor, lineStyle: { color: "#fff", width: 1 } },
      axisLabel: { show: false },
    },
  ],
  yAxis: [
    horizontal("left", yTicks, 16, true, 6, {
      name: "{i|y}  {s|[ 0.04pc ]}",
      nameLocation: "middle",
      nameGap: 46,
      nameRotate: 90,
      nameTextStyle: { rich: nameRich },
    }),
    horizontal("right", yTicks, 16, false, 0),
    horizontal("left", minorTicks, 8, false, 0),
    horizontal("right", minorTicks, 8, false, 0),
    { gridIndex: 1, type: "value", min: 0, max: 1, show: false },
  ],
  series: [
    {
      ...base,
      data: rings,
      renderItem: (_: any, api: any) => {
        const c = api.coord([0, 0]);
        const s = api.size([api.value(0), api.value(0)]);
        return { type: "ellipse", shape: { cx: c[0], cy: c[1], rx: s[0], ry: s[1] }, style: { fill: colorOf(api.value(1)) } };
      },
    },
    arcSeries(broadBands, 0.45),
    arcSeries(fineStreaks, 0.5, 1.9),
    arcSeries(fineStreaks, 0.75),
    arcSeries(outerFilaments, 0.45, 2.2),
    arcSeries(outerFilaments, 0.75),
    arcSeries(innerFilaments, 0.4, 2),
    arcSeries(innerFilaments, 0.85),
    arcSeries(darkFilaments, 0.8),
    {
      ...base,
      data: clumps,
      renderItem: (_: any, api: any) => {
        const c = api.coord([api.value(0), api.value(1)]);
        const s = api.size([api.value(2), api.value(3)]);
        return { type: "rect", shape: { x: c[0] - s[0], y: c[1] - s[1], width: 2 * s[0], height: 2 * s[1] }, style: { fill: colorOf(api.value(4)) } };
      },
    },
    {
      type: "scatter",
      silent: true,
      data: stars,
      symbol: "path://M0 0L10 10M10 0L0 10",
      symbolSize: 4.5,
      itemStyle: { color: "none", borderColor: "#ff1424", borderWidth: 1.5 },
      z: 5,
    },
    {
      type: "scatter",
      silent: true,
      data: coreDot,
      symbol: "rect",
      symbolSize: 1,
      itemStyle: { color: "#dfe8ff" },
      z: 5,
    },
    {
      ...base,
      xAxisIndex: 4,
      yAxisIndex: 4,
      data: [[barRange[0], barRange[1]]],
      renderItem: (_: any, api: any) => {
        const a = api.coord([api.value(0), 1]);
        const b = api.coord([api.value(1), 0]);
        const span = barRange[1] - barRange[0];
        return {
          type: "rect",
          shape: { x: a[0], y: a[1], width: b[0] - a[0], height: b[1] - a[1] },
          style: {
            fill: new echarts.graphic.LinearGradient(
              0, 0, 1, 0,
              palette.map(([v]) => ({ offset: Math.min(1, Math.max(0, (v - barRange[0]) / span)), color: colorOf(v) }))
            ),
          },
        };
      },
    },
  ],
};

export default function App() {
  const ref = useRef<HTMLDivElement>(null);
  useEffect(() => {
    document.body.style.margin = "0";
    document.body.style.background = "#fff";
    const chart = echarts.init(ref.current!, undefined, { renderer: "svg" });
    chart.setOption(option);
    return () => chart.dispose();
  }, []);
  return <div ref={ref} style={{ width: 822, height: 926 }} />;
}
